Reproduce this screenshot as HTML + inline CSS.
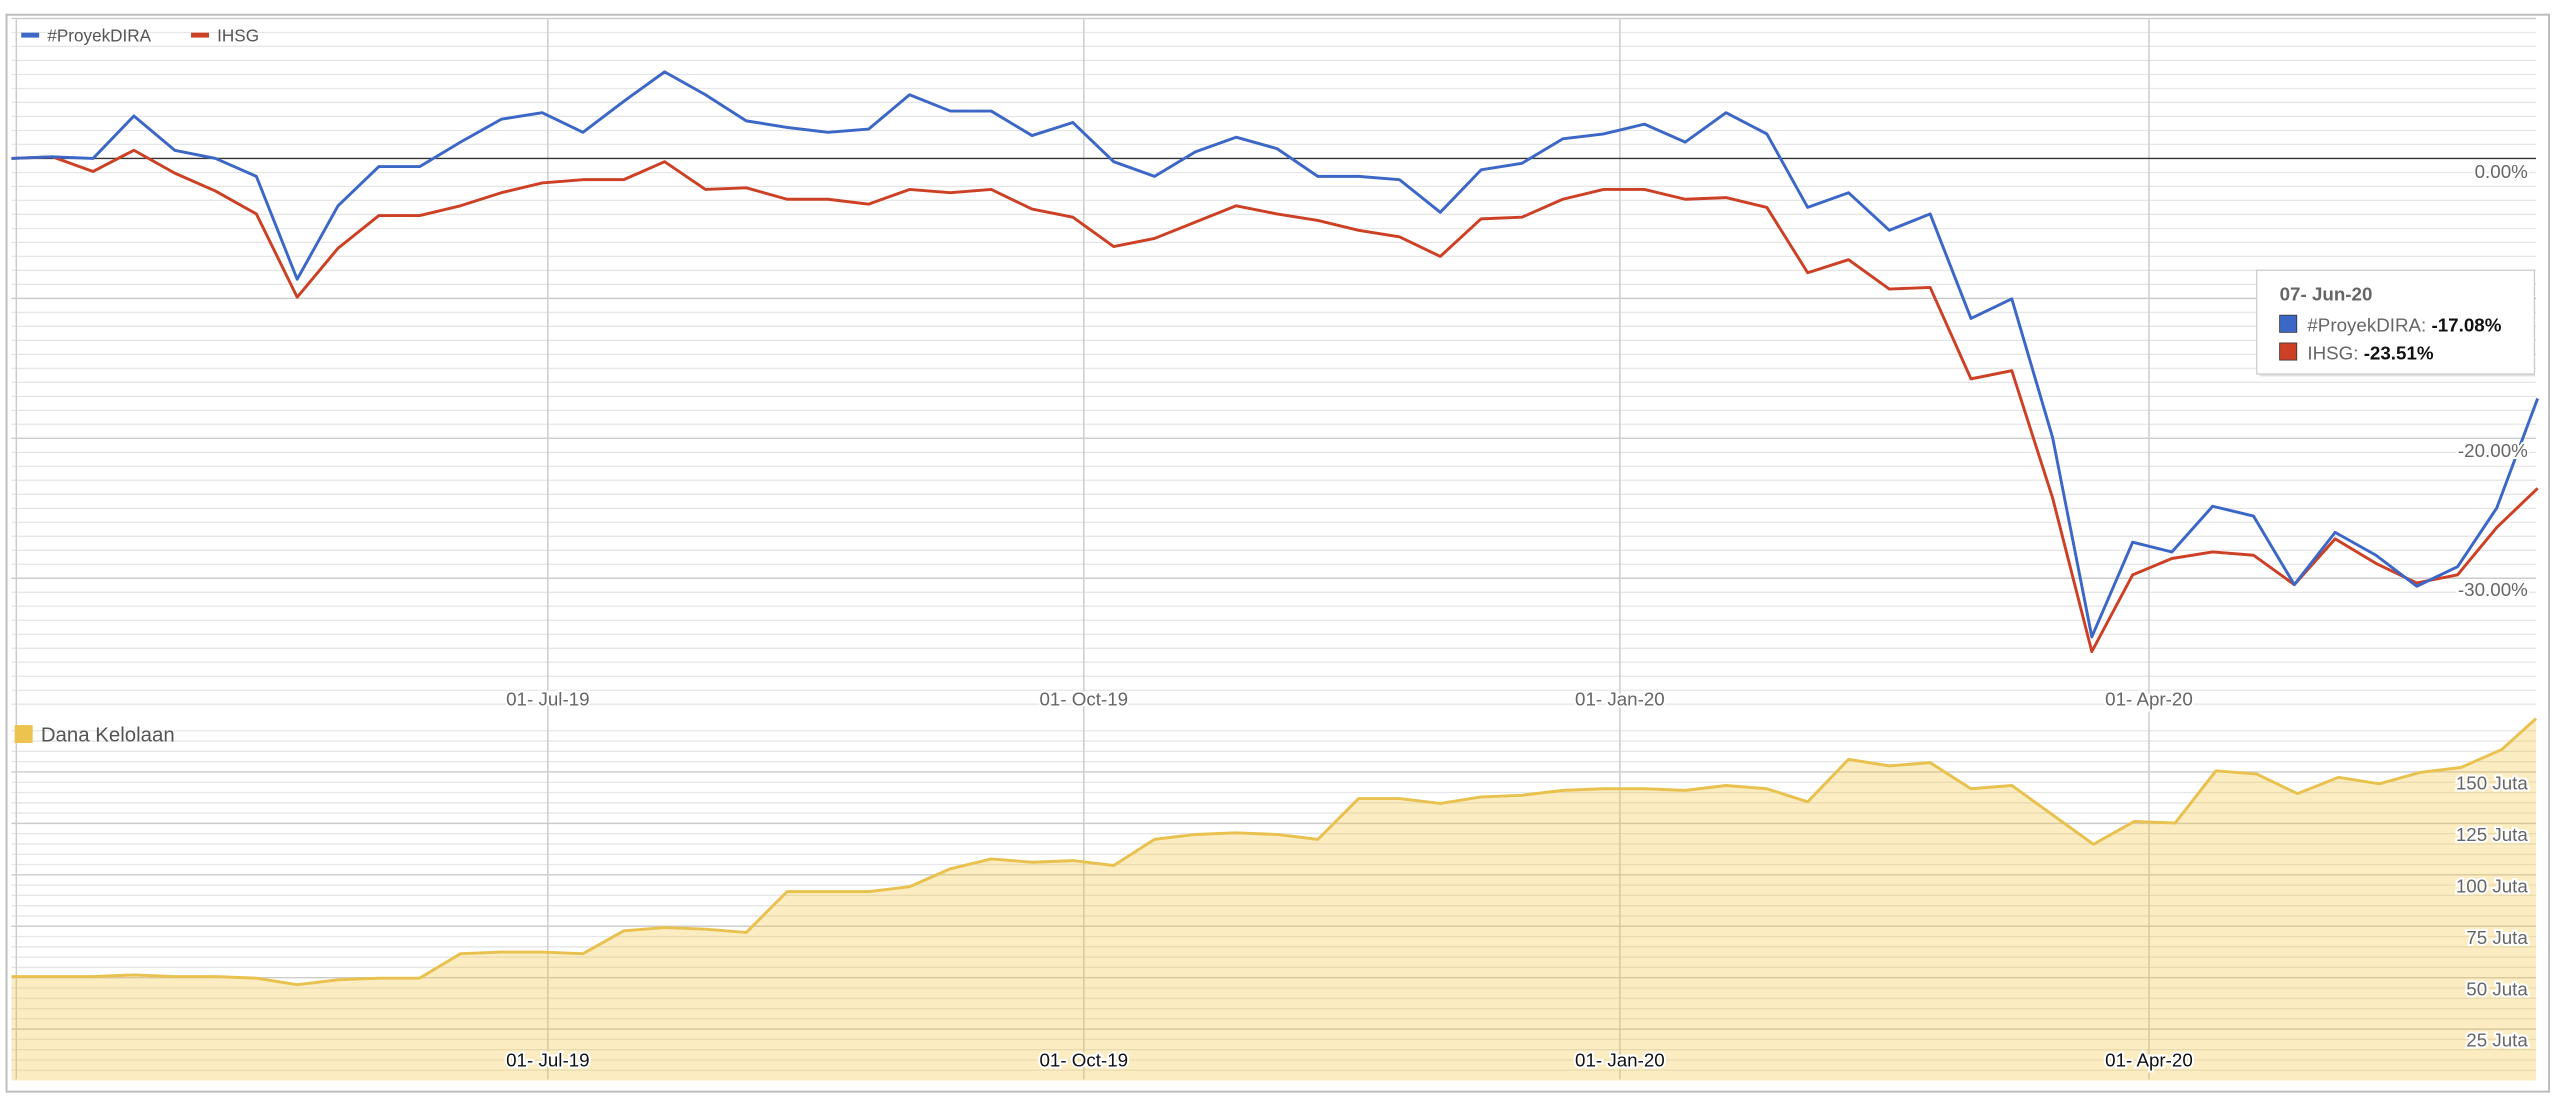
<!DOCTYPE html>
<html><head><meta charset="utf-8"><style>
html,body{margin:0;padding:0;background:#fff;width:2560px;height:1101px;overflow:hidden}
svg{display:block}
text{font-family:"Liberation Sans",sans-serif}
</style></head><body>
<svg width="2560" height="1101" viewBox="0 0 1567.7 674.2" xmlns="http://www.w3.org/2000/svg">
<rect x="0" y="0" width="1567.7" height="674.2" fill="#fff"/>
<rect x="4" y="9" width="1557" height="659.5" fill="none" stroke="#bdbdbd" stroke-width="1.2"/>
<path fill="none" stroke="#e6e6e6" stroke-width="0.8" d="M7 19.9H1553M7 28.4H1553M7 37H1553M7 45.6H1553M7 54.2H1553M7 62.7H1553M7 71.3H1553M7 79.9H1553M7 88.4H1553M7 105.6H1553M7 114.1H1553M7 122.7H1553M7 131.3H1553M7 139.9H1553M7 148.4H1553M7 157H1553M7 165.6H1553M7 174.1H1553M7 191.3H1553M7 199.8H1553M7 208.4H1553M7 217H1553M7 225.6H1553M7 234.1H1553M7 242.7H1553M7 251.3H1553M7 259.8H1553M7 277H1553M7 285.5H1553M7 294.1H1553M7 302.7H1553M7 311.3H1553M7 319.8H1553M7 328.4H1553M7 337H1553M7 345.5H1553M7 362.7H1553M7 371.2H1553M7 379.8H1553M7 388.4H1553M7 397H1553M7 405.5H1553M7 414.1H1553M7 422.7H1553M7 431.2H1553"/>
<path fill="none" stroke="#cccccc" stroke-width="0.9" d="M7 11.3H1553M7 182.7H1553M7 268.4H1553M7 354.1H1553"/>
<path fill="none" stroke="#e6e6e6" stroke-width="0.8" d="M7 447.5H1553M7 453.8H1553M7 460.1H1553M7 466.4H1553M7 479H1553M7 485.3H1553M7 491.6H1553M7 497.9H1553M7 510.5H1553M7 516.8H1553M7 523.1H1553M7 529.4H1553M7 542H1553M7 548.3H1553M7 554.6H1553M7 560.9H1553M7 573.5H1553M7 579.8H1553M7 586.1H1553M7 592.4H1553M7 605H1553M7 611.3H1553M7 617.6H1553M7 623.9H1553M7 636.5H1553M7 642.8H1553M7 649.1H1553M7 655.4H1553"/>
<path fill="none" stroke="#cccccc" stroke-width="0.9" d="M7 472.7H1553M7 504.2H1553M7 535.7H1553M7 567.2H1553M7 598.7H1553M7 630.2H1553"/>
<path fill="none" stroke="#cccccc" stroke-width="0.9" d="M10 12V661M335.5 12V661M663.7 12V661M992 12V661M1316 12V661"/>
<line x1="7" y1="97" x2="1553" y2="97" stroke="#333" stroke-width="0.9"/>
<path fill="#f1c232" fill-opacity="0.3" d="M7 661.7L7 598 32 598 57 598 82 597 107 598 132 598 157 599 182 603 207 600 232 599 257 599 282 584 307 583 332 583 357 584 382 570 407 568 432 569 457 571 482 546 507 546 532 546 557 543 582 532 607 526 632 528 657 527 682 530 707 514 732 511 757 510 782 511 807 514 832 489 857 489 882 492 907 488 932 487 957 484 982 483 1007 483 1032 484 1057 481 1082 483 1107 491 1132 465 1157 469 1182 467 1207 483 1232 481 1257 499 1282 517 1307 503 1332 504 1357 472 1382 474 1407 486 1432 476 1457 480 1482 473 1507 470 1532 459 1553 440L1553 661.7Z"/>
<polyline fill="none" stroke="#e8c14f" stroke-width="1.8" stroke-linejoin="round" points="7,598 32,598 57,598 82,597 107,598 132,598 157,599 182,603 207,600 232,599 257,599 282,584 307,583 332,583 357,584 382,570 407,568 432,569 457,571 482,546 507,546 532,546 557,543 582,532 607,526 632,528 657,527 682,530 707,514 732,511 757,510 782,511 807,514 832,489 857,489 882,492 907,488 932,487 957,484 982,483 1007,483 1032,484 1057,481 1082,483 1107,491 1132,465 1157,469 1182,467 1207,483 1232,481 1257,499 1282,517 1307,503 1332,504 1357,472 1382,474 1407,486 1432,476 1457,480 1482,473 1507,470 1532,459 1553,440"/>
<polyline fill="none" stroke="#cc4125" stroke-width="1.8" stroke-linejoin="round" points="7,97 32,96 57,105 82,92 107,106 132,117 157,131 182,182 207,152 232,132 257,132 282,126 307,118 332,112 357,110 382,110 407,99 432,116 457,115 482,122 507,122 532,125 557,116 582,118 607,116 632,128 657,133 682,151 707,146 732,136 757,126 782,131 807,135 832,141 857,145 882,157 907,134 932,133 957,122 982,116 1007,116 1032,122 1057,121 1082,127 1107,167 1132,159 1157,177 1182,176 1207,232 1232,227 1257,305 1281,399 1306,352 1330,342 1355,338 1380,340 1405,358 1430,330 1455,345 1480,357 1505,352 1529,323 1554,299"/>
<polyline fill="none" stroke="#3c67c6" stroke-width="1.8" stroke-linejoin="round" points="7,97 32,96 57,97 82,71 107,92 132,97 157,108 182,171 207,126 232,102 257,102 282,87 307,73 332,69 357,81 382,62 407,44 432,58 457,74 482,78 507,81 532,79 557,58 582,68 607,68 632,83 657,75 682,99 707,108 732,93 757,84 782,91 807,108 832,108 857,110 882,130 907,104 932,100 957,85 982,82 1007,76 1032,87 1057,69 1082,82 1107,127 1132,118 1157,141 1182,131 1207,195 1232,183 1257,268 1281,390 1306,332 1330,338 1355,310 1380,316 1405,358 1430,326 1455,340 1480,359 1505,347 1529,311 1554,244"/>
<rect x="13" y="20" width="11" height="3" fill="#3c67c6"/>
<text x="29" y="25.5" font-size="10.5" fill="#555">#ProyekDIRA</text>
<rect x="117" y="20" width="11" height="3" fill="#cc4125"/>
<text x="133" y="25.5" font-size="10.5" fill="#555">IHSG</text>
<g font-size="11.5" fill="#666" text-anchor="end" stroke="#fff" stroke-width="2.5" paint-order="stroke">
<text x="1548" y="109">0.00%</text>
<text x="1548" y="280">-20.00%</text>
<text x="1548" y="365">-30.00%</text>
</g>
<g font-size="11.5" fill="#666" text-anchor="middle" stroke="#fff" stroke-width="2.5" paint-order="stroke">
<text x="335.5" y="432">01- Jul-19</text>
<text x="663.7" y="432">01- Oct-19</text>
<text x="992" y="432">01- Jan-20</text>
<text x="1316" y="432">01- Apr-20</text>
</g>
<rect x="9" y="444" width="11" height="11" fill="#ecc34f"/>
<text x="25" y="454" font-size="12.5" fill="#555">Dana Kelolaan</text>
<g font-size="11.5" fill="#666" text-anchor="end" stroke="#fff" stroke-width="2.5" paint-order="stroke">
<text x="1548" y="483.5">150 Juta</text>
<text x="1548" y="515">125 Juta</text>
<text x="1548" y="546.5">100 Juta</text>
<text x="1548" y="578">75 Juta</text>
<text x="1548" y="609.5">50 Juta</text>
<text x="1548" y="641">25 Juta</text>
</g>
<g font-size="11.5" fill="#111" text-anchor="middle" stroke="#fff" stroke-width="2.5" paint-order="stroke">
<text x="335.5" y="653">01- Jul-19</text>
<text x="663.7" y="653">01- Oct-19</text>
<text x="992" y="653">01- Jan-20</text>
<text x="1316" y="653">01- Apr-20</text>
</g>
<rect x="1383.5" y="167.5" width="169" height="63" fill="#000" fill-opacity="0.12"/>
<rect x="1382" y="165.5" width="170" height="63.5" fill="#fff" stroke="#c8c8c8" stroke-width="0.7"/>
<text x="1396" y="184" font-size="11.5" fill="#666" font-weight="bold">07- Jun-20</text>
<rect x="1396" y="193" width="10.5" height="10.5" fill="#3c67c6" stroke="#333" stroke-width="0.5"/>
<text x="1413" y="203" font-size="11.5" fill="#666">#ProyekDIRA: <tspan fill="#111" font-weight="bold">-17.08%</tspan></text>
<rect x="1396" y="210" width="10.5" height="10.5" fill="#cc4125" stroke="#333" stroke-width="0.5"/>
<text x="1413" y="220" font-size="11.5" fill="#666">IHSG: <tspan fill="#111" font-weight="bold">-23.51%</tspan></text>
</svg>
</body></html>
